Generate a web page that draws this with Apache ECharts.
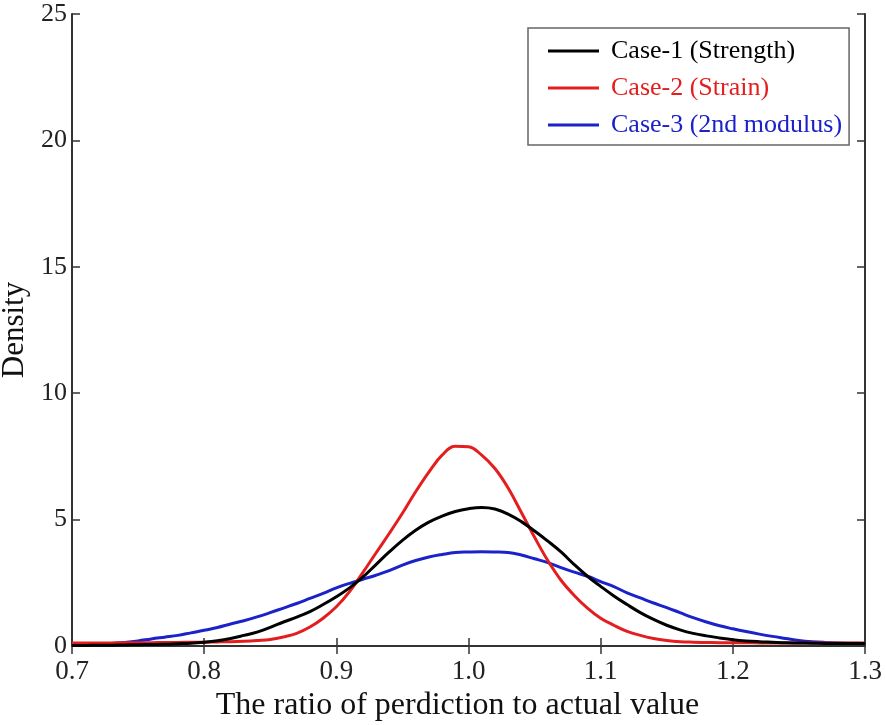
<!DOCTYPE html>
<html>
<head>
<meta charset="utf-8">
<script src="https://cdn.jsdelivr.net/npm/echarts@6/dist/echarts.min.js"></script>
<style>html,body{margin:0;padding:0;background:#fff}#c{width:886px;height:725px}</style>
</head>
<body>
<div id="c"></div>
<script>
var xs = [0.70,0.71,0.72,0.73,0.74,0.75,0.76,0.77,0.78,0.79,0.80,0.81,0.82,0.83,0.84,0.85,0.86,0.87,0.88,0.89,0.90,0.91,0.92,0.93,0.94,0.95,0.96,0.97,0.98,0.99,1.00,1.01,1.02,1.03,1.04,1.05,1.06,1.07,1.08,1.09,1.10,1.11,1.12,1.13,1.14,1.15,1.16,1.17,1.18,1.19,1.20,1.21,1.22,1.23,1.24,1.25,1.26,1.27,1.28,1.29,1.30];
var case1 = [0.02,0.02,0.03,0.03,0.04,0.05,0.06,0.07,0.09,0.11,0.15,0.21,0.30,0.42,0.55,0.74,0.95,1.14,1.36,1.64,1.95,2.30,2.72,3.22,3.72,4.18,4.58,4.90,5.14,5.32,5.43,5.48,5.42,5.22,4.92,4.55,4.15,3.72,3.22,2.76,2.36,1.98,1.64,1.32,1.05,0.82,0.64,0.50,0.40,0.32,0.25,0.20,0.17,0.15,0.13,0.12,0.11,0.10,0.10,0.10,0.10];
var case2 = [0.12,0.12,0.12,0.12,0.13,0.13,0.13,0.14,0.14,0.15,0.15,0.16,0.17,0.19,0.22,0.26,0.36,0.50,0.75,1.10,1.55,2.15,2.90,3.68,4.45,5.25,6.10,6.88,7.55,7.90,7.88,7.55,7.02,6.25,5.28,4.30,3.38,2.60,2.00,1.50,1.10,0.82,0.58,0.42,0.30,0.22,0.17,0.15,0.14,0.13,0.13,0.13,0.12,0.12,0.12,0.12,0.12,0.12,0.12,0.12,0.12];
var case3 = [0.02,0.06,0.08,0.10,0.14,0.20,0.28,0.35,0.42,0.52,0.62,0.73,0.87,1.00,1.15,1.32,1.50,1.68,1.88,2.08,2.30,2.48,2.64,2.80,2.98,3.20,3.38,3.52,3.62,3.70,3.72,3.73,3.72,3.70,3.60,3.45,3.30,3.10,2.92,2.76,2.55,2.35,2.10,1.90,1.70,1.52,1.32,1.12,0.95,0.80,0.68,0.57,0.47,0.38,0.30,0.22,0.17,0.14,0.12,0.11,0.10];
var seriesNames = ['Case-1 (Strength)', 'Case-2 (Strain)', 'Case-3 (2nd modulus)'];
var seriesColors = ['#000000', '#e41e1e', '#1a22c8'];
var yTicks = [0, 5, 10, 15, 20, 25];

function pairs(v) { return xs.map(function (x, i) { return [x, v[i]]; }); }
var allValues = [case1, case2, case3];

var font = 'Liberation Serif, Times New Roman, serif';
var axisCommon = {
  axisLine: { show: true, lineStyle: { color: '#333', width: 2 } },
  axisTick: { show: true, inside: true, length: 8, lineStyle: { color: '#333', width: 1.5 } },
  splitLine: { show: false }
};

var chart = echarts.init(document.getElementById('c'), null, { renderer: 'canvas' });
chart.setOption({
  animation: false,
  backgroundColor: '#fff',
  grid: { left: 72, right: 21, top: 14, bottom: 79, containLabel: false, outerBoundsMode: 'none' },
  legend: {
    left: 528, top: 28, orient: 'vertical',
    backgroundColor: '#fff', borderColor: '#666', borderWidth: 1.5,
    padding: [10, 7, 7, 20],
    itemGap: 11, itemWidth: 51, itemHeight: 3, icon: 'rect',
    textStyle: { fontFamily: font, fontSize: 26, padding: [0, 0, 0, 7] },
    data: seriesNames.map(function (n, i) { return { name: n, textStyle: { color: seriesColors[i] } }; })
  },
  xAxis: [
    Object.assign({
      type: 'value', min: 0.7, max: 1.3, interval: 0.1, position: 'bottom',
      name: 'The ratio of perdiction to actual value', nameLocation: 'middle', nameGap: 44,
      nameTextStyle: { fontFamily: font, fontSize: 32, color: '#111', padding: [0, 22, 0, 0] },
      axisLabel: { fontFamily: font, fontSize: 27, color: '#222', margin: 12,
        formatter: function (v) { return v.toFixed(1); } }
    }, axisCommon),
    Object.assign({
      type: 'value', min: 0.7, max: 1.3, interval: 0.1, position: 'top',
      axisLabel: { show: false }
    }, axisCommon)
  ],
  yAxis: [
    Object.assign({
      type: 'value', min: yTicks[0], max: yTicks[yTicks.length - 1], interval: 5, position: 'left',
      name: 'Density', nameLocation: 'middle', nameGap: 38, nameRotate: 90,
      nameTextStyle: { fontFamily: font, fontSize: 31, color: '#111' },
      axisLabel: { fontFamily: font, fontSize: 26, color: '#222', margin: 5 }
    }, axisCommon),
    Object.assign({
      type: 'value', min: yTicks[0], max: yTicks[yTicks.length - 1], interval: 5, position: 'right',
      axisLabel: { show: false }
    }, axisCommon)
  ],
  series: seriesNames.map(function (n, i) {
    return {
      name: n, type: 'line', xAxisIndex: 0, yAxisIndex: 0,
      data: pairs(allValues[i]), showSymbol: false, symbol: 'none', smooth: 0.4,
      lineStyle: { color: seriesColors[i], width: 3 }, itemStyle: { color: seriesColors[i] },
      z: 3 - i
    };
  })
});
</script>
</body>
</html>
